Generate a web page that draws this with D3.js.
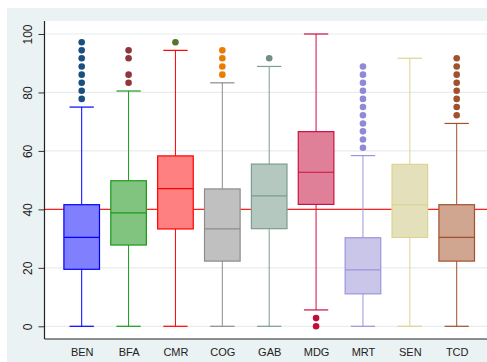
<!DOCTYPE html>
<html><head><meta charset="utf-8">
<script src="https://cdn.jsdelivr.net/npm/d3@7"></script>
<style>html,body{margin:0;padding:0;background:#fff;}svg{display:block;}</style>
</head><body>
<script>
const categories = ["BEN","BFA","CMR","COG","GAB","MDG","MRT","SEN","TCD"];
const whiskerLow = [0,0,0,0,0,5.6,0,0,0];
const q1 = [19.5,27.8,33.3,22.3,33.4,41.7,11.1,30.4,22.3];
const median = [30.4,38.8,47.1,33.3,44.6,52.7,19.3,41.6,30.4];
const q3 = [41.6,49.8,58.3,47.0,55.5,66.6,30.3,55.4,41.6];
const whiskerHigh = [75.0,80.5,94.4,83.3,88.9,100,58.4,91.7,69.4];
const outliers = [
  [97.2,94.4,91.7,88.9,86.1,83.3,80.6,77.8],
  [94.4,91.7,86.1,83.3],
  [97.2],
  [94.4,91.7,88.9,86.1],
  [91.7],
  [2.8,0],
  [88.9,86.1,83.3,80.6,77.8,75.0,72.2,69.4,66.7,63.9,61.1],
  [],
  [91.7,88.9,86.1,83.3,80.6,77.8,75.0,72.2]
];
const refLine = 40;
const yTicks = [0,20,40,60,80,100];
const strokeColors = ["#0000ff","#1a9a1a","#ff0000","#8c8c8c","#7b9e8e","#cc1040","#9b94dc","#dcd490","#a0522d"];
const fillColors = ["#8080ff","#80c480","#ff8080","#c0c0c0","#b4c8bf","#e07f98","#c9c6ea","#e4e0bc","#d0a690"];
const outlierColors = ["#1a4f80","#90353b","#55752e","#e87d00","#709085","#c0103a","#8f89d8","#dcd490","#a0522d"];

const W = 487, H = 362;
const svg = d3.select("body").append("svg").attr("width", W).attr("height", H);
svg.append("rect").attr("x",0).attr("y",0).attr("width",W).attr("height",H).attr("fill","#fff");
svg.append("rect").attr("x",7).attr("y",8).attr("width",W-7).attr("height",H-8).attr("fill","#eaf2f3");
const plotL = 44.5, plotT = 21, plotR = 487, plotB = 339;
svg.append("rect").attr("x",plotL).attr("y",plotT).attr("width",plotR-plotL).attr("height",plotB-plotT).attr("fill","#fff");

const x = d3.scalePoint().domain(categories).range([81.7, 456.7]);
const y = d3.scaleLinear().domain([0,100]).range([326.3, 34]);

// gridlines
svg.append("g").selectAll("line").data(yTicks).join("line")
  .attr("x1", plotL).attr("x2", plotR)
  .attr("y1", d=>y(d)).attr("y2", d=>y(d))
  .attr("stroke","#e6eeef").attr("stroke-width",1.2);

// reference line (behind boxes)
svg.append("line").attr("x1",plotL).attr("x2",plotR).attr("y1",y(refLine)).attr("y2",y(refLine)).attr("stroke","#ff2020").attr("stroke-width",1.3);

// y axis
const yAxis = d3.axisLeft(y).tickValues(yTicks).tickSize(6).tickPadding(6);
const gy = svg.append("g").attr("transform",`translate(${plotL},0)`).call(yAxis);
gy.select(".domain").remove();
gy.selectAll(".tick line").attr("stroke","#333");
gy.selectAll(".tick text")
  .attr("transform","rotate(-90)")
  .attr("x", 0).attr("y", -13).attr("dy","0")
  .attr("text-anchor","middle")
  .style("font-family","'Liberation Sans', Arial, sans-serif").style("font-size","12px").attr("fill","#222");
svg.append("line").attr("x1",plotL).attr("x2",plotL).attr("y1",plotT).attr("y2",plotB).attr("stroke","#222").attr("stroke-width",1.2);

// x axis
const xAxis = d3.axisBottom(x).tickSize(0).tickPadding(11);
const gx = svg.append("g").attr("transform",`translate(0,${plotB})`).call(xAxis);
gx.select(".domain").remove();
gx.selectAll(".tick text").attr("y",17).attr("dy","0")
  .style("font-family","'Liberation Sans', Arial, sans-serif").style("font-size","11px").attr("fill","#222");
svg.append("line").attr("x1",plotL).attr("x2",plotR).attr("y1",plotB).attr("y2",plotB).attr("stroke","#222").attr("stroke-width",1.2);

const boxW = 35.6, capW = 24.3;
const g = svg.append("g");
categories.forEach((c,i)=>{
  const cx = x(c);
  const s = strokeColors[i];
  g.append("line").attr("x1",cx).attr("x2",cx).attr("y1",y(whiskerHigh[i])).attr("y2",y(q3[i])).attr("stroke",s).attr("stroke-width",1);
  g.append("line").attr("x1",cx).attr("x2",cx).attr("y1",y(q1[i])).attr("y2",y(whiskerLow[i])).attr("stroke",s).attr("stroke-width",1);
  g.append("line").attr("x1",cx-capW/2).attr("x2",cx+capW/2).attr("y1",y(whiskerHigh[i])).attr("y2",y(whiskerHigh[i])).attr("stroke",s).attr("stroke-width",1.2);
  g.append("line").attr("x1",cx-capW/2).attr("x2",cx+capW/2).attr("y1",y(whiskerLow[i])).attr("y2",y(whiskerLow[i])).attr("stroke",s).attr("stroke-width",1.2);
  g.append("rect").attr("x",cx-boxW/2).attr("y",y(q3[i])).attr("width",boxW).attr("height",y(q1[i])-y(q3[i]))
    .attr("fill",fillColors[i]).attr("stroke",s).attr("stroke-width",1.2);
  g.append("line").attr("x1",cx-boxW/2).attr("x2",cx+boxW/2).attr("y1",y(median[i])).attr("y2",y(median[i])).attr("stroke",s).attr("stroke-width",1.2);
  g.selectAll(null).data(outliers[i]).join("circle")
    .attr("cx",cx).attr("cy",d=>y(d)).attr("r",3.3).attr("fill",outlierColors[i]);
});
</script>
</body></html>
